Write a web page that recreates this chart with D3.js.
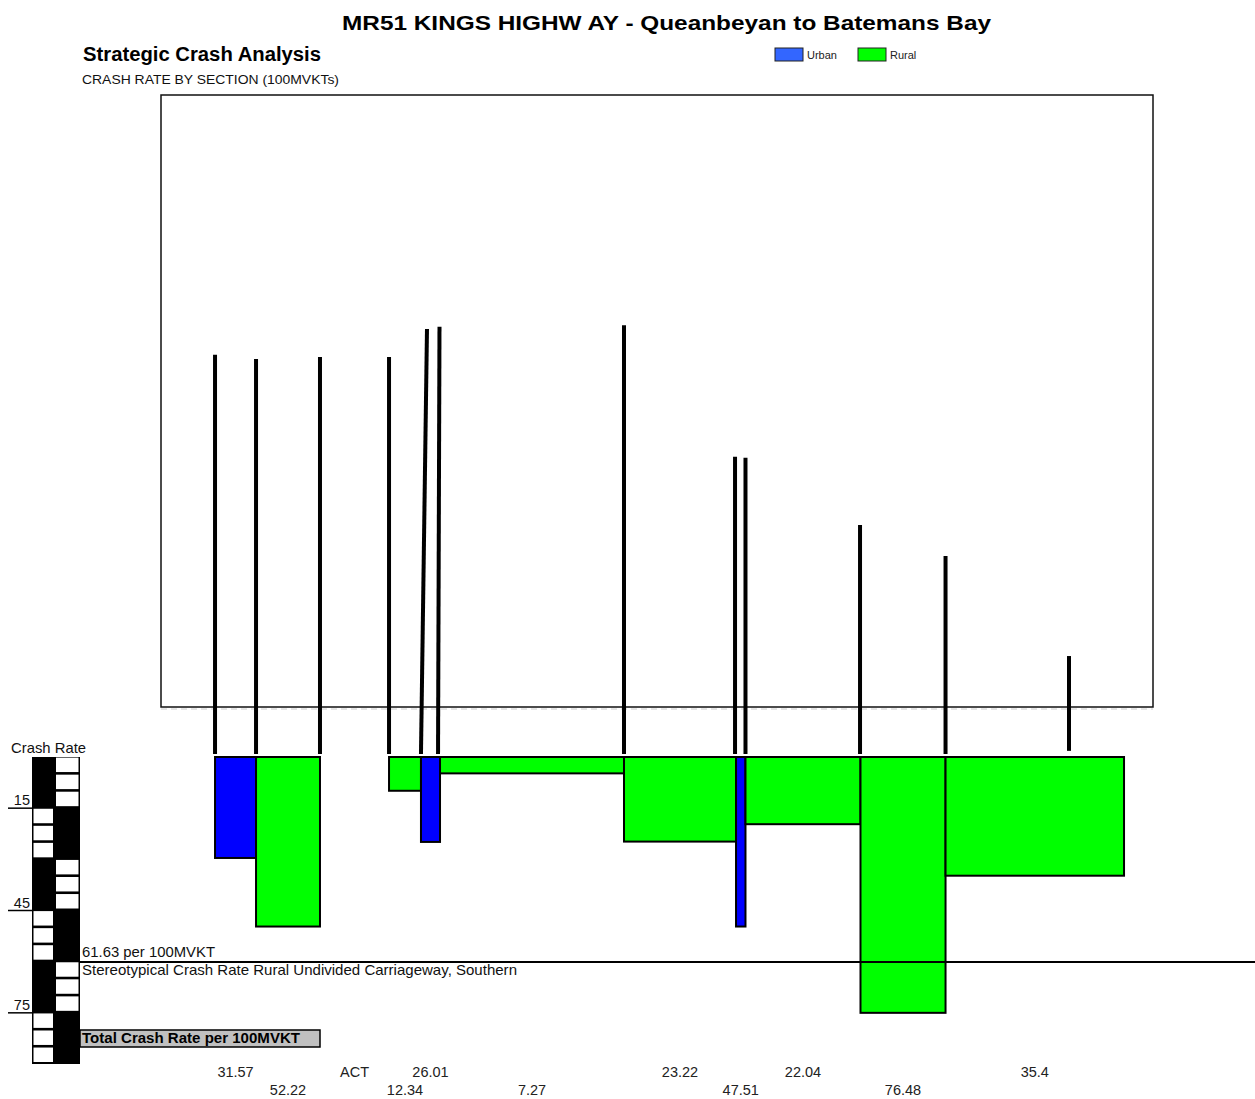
<!DOCTYPE html>
<html><head><meta charset="utf-8">
<script src="https://cdn.jsdelivr.net/npm/d3@7"></script>
<style>body{margin:0;background:#fff} svg{display:block} text{font-family:"Liberation Sans",Arial,sans-serif}</style>
</head><body><svg id="c" width="1255" height="1099"></svg>
<script>
// ---- data (chainage in km along route, crash rates per 100MVKT) ----
const sectionStart = [8.17, 14.37, 24.04, 34.48, 39.31, 42.19, 70.01, 86.95, 88.38, 105.77, 118.63];
const sectionEnd   = [14.37, 24.04, 34.48, 39.31, 42.19, 70.01, 86.95, 88.38, 105.77, 118.63, 145.62];
const sectionType  = ["Urban","Rural","ACT","Rural","Urban","Rural","Rural","Urban","Rural","Rural","Rural"];
const barRate      = [29.6, 49.7, null, 9.9, 24.9, 4.8, 24.8, 49.7, 19.7, 75.0, 34.8];
const rateLabels   = ["31.57","52.22","ACT","12.34","26.01","7.27","23.22","47.51","22.04","76.48","35.4"];
const dividerTopX    = [8.17, 14.37, 24.04, 34.48, 40.22, 42.11, 70.01, 86.80, 88.38, 105.70, 118.63, 137.30];
const dividerBottomX = [8.17, 14.37, 24.04, 34.48, 39.31, 41.89, 70.01, 86.80, 88.38, 105.70, 118.63, 137.30];
const dividerLevel   = [117.9, 116.7, 117.3, 117.3, 125.5, 126.1, 126.6, 88.0, 87.7, 68.0, 58.9, 29.6];
const dividerEnd     = [0.9, 0.9, 0.9, 0.9, 0.9, 0.9, 0.9, 0.9, 0.9, 0.9, 0.9, 1.8];
const scaleTicks = [15, 45, 75];
const referenceRate = 60.1;
const referenceLabel = "61.63 per 100MVKT";
const referenceDesc = "Stereotypical Crash Rate Rural Undivided Carriageway, Southern";
const legendItems = ["Urban", "Rural"];

const svg = d3.select("#c");
const x = d3.scaleLinear().domain([0, 150]).range([161, 1153]);
const yDown = d3.scaleLinear().domain([0, 90]).range([757, 1064]);
const yUp = d3.scaleLinear().domain([0, 90]).range([757, 450]);
const barColor = d3.scaleOrdinal().domain(["Urban","Rural"]).range(["#0000ff","#00ff00"]);
const legendColor = d3.scaleOrdinal().domain(["Urban","Rural"]).range(["#3366ff","#00ff00"]);

// titles
svg.append("text").attr("x", 342).attr("y", 30).attr("font-size", 21).attr("font-weight", "bold")
  .attr("textLength", 649).attr("lengthAdjust", "spacingAndGlyphs")
  .text("MR51 KINGS HIGHW AY - Queanbeyan to Batemans Bay");
svg.append("text").attr("x", 83).attr("y", 61).attr("font-size", 20).attr("font-weight", "bold")
  .attr("textLength", 238).attr("lengthAdjust", "spacingAndGlyphs").text("Strategic Crash Analysis");
svg.append("text").attr("x", 82).attr("y", 84).attr("font-size", 13).attr("fill", "#111")
  .attr("textLength", 257).attr("lengthAdjust", "spacingAndGlyphs").text("CRASH RATE BY SECTION (100MVKTs)");

// legend
const legX = d3.scaleOrdinal().domain(legendItems).range([775, 858]);
const lg = svg.append("g").selectAll("g").data(legendItems).join("g");
lg.append("rect").attr("x", d => legX(d)).attr("y", 48).attr("width", 28).attr("height", 13)
  .attr("fill", d => legendColor(d)).attr("stroke", "#222").attr("stroke-width", 1);
lg.append("text").attr("x", d => legX(d) + 32).attr("y", 59).attr("font-size", 11).attr("fill", "#222").text(d => d);

// plot frame
svg.append("line").attr("x1", 161).attr("x2", 1153).attr("y1", 709).attr("y2", 709)
  .attr("stroke", "#ccc").attr("stroke-width", 1).attr("stroke-dasharray", "6,4");
svg.append("rect").attr("x", 161).attr("y", 95).attr("width", 992).attr("height", 612)
  .attr("fill", "none").attr("stroke", "#111").attr("stroke-width", 1.5);

// scale bar
svg.append("text").attr("x", 11).attr("y", 753).attr("font-size", 14.5).attr("fill", "#111")
  .attr("textLength", 75).attr("lengthAdjust", "spacingAndGlyphs").text("Crash Rate");
svg.append("rect").attr("x", 32).attr("y", yDown(0)).attr("width", 48).attr("height", yDown(90) - yDown(0)).attr("fill", "#000");
const rows = d3.range(18);
svg.append("g").selectAll("rect").data(rows).join("rect")
  .attr("x", r => (Math.floor(r / 3) % 2 === 0) ? 56 : 33.5)
  .attr("width", r => (Math.floor(r / 3) % 2 === 0) ? 22.5 : 19.5)
  .attr("y", r => yDown(r * 5) + 0.6)
  .attr("height", r => yDown((r + 1) * 5) - yDown(r * 5) - 2.6)
  .attr("fill", "#fff");
const tk = svg.append("g").selectAll("g").data(scaleTicks).join("g");
tk.append("line").attr("x1", 8).attr("x2", 33).attr("y1", d => yDown(d)).attr("y2", d => yDown(d))
  .attr("stroke", "#000").attr("stroke-width", 1.5);
tk.append("text").attr("x", 30).attr("y", d => yDown(d) - 3).attr("text-anchor", "end")
  .attr("font-size", 14.5).attr("fill", "#111").text(d => d);

// dividers
svg.append("g").selectAll("line").data(dividerTopX).join("line")
  .attr("x1", (d, i) => x(d)).attr("y1", (d, i) => yUp(dividerLevel[i]))
  .attr("x2", (d, i) => x(dividerBottomX[i])).attr("y2", (d, i) => yUp(dividerEnd[i]))
  .attr("stroke", "#000").attr("stroke-width", 4);

// reference line
svg.append("line").attr("x1", 79).attr("x2", 1255).attr("y1", yDown(referenceRate)).attr("y2", yDown(referenceRate))
  .attr("stroke", "#000").attr("stroke-width", 2);

// bars
const bars = sectionStart.map((s, i) => ({s, e: sectionEnd[i], t: sectionType[i], v: barRate[i], lab: rateLabels[i], i}));
svg.append("g").selectAll("rect").data(bars.filter(d => d.v !== null)).join("rect")
  .attr("x", d => x(d.s)).attr("y", yDown(0))
  .attr("width", d => x(d.e) - x(d.s)).attr("height", d => yDown(d.v) - yDown(0))
  .attr("fill", d => barColor(d.t)).attr("stroke", "#000").attr("stroke-width", 2);
// reference line visible across the tallest bar
svg.append("line").attr("x1", x(105.77)).attr("x2", x(118.63)).attr("y1", yDown(referenceRate)).attr("y2", yDown(referenceRate))
  .attr("stroke", "#000").attr("stroke-width", 2);

svg.append("text").attr("x", 82).attr("y", 957).attr("font-size", 14.5).attr("fill", "#111")
  .attr("textLength", 133).attr("lengthAdjust", "spacingAndGlyphs").text(referenceLabel);
svg.append("text").attr("x", 82).attr("y", 975).attr("font-size", 14.5).attr("fill", "#111")
  .attr("textLength", 435).attr("lengthAdjust", "spacingAndGlyphs").text(referenceDesc);

// total box
svg.append("rect").attr("x", 80).attr("y", 1030).attr("width", 240).attr("height", 17)
  .attr("fill", "#c0c0c0").attr("stroke", "#000").attr("stroke-width", 1.5);
svg.append("text").attr("x", 82).attr("y", 1043).attr("font-size", 14.5).attr("font-weight", "bold")
  .attr("textLength", 218).attr("lengthAdjust", "spacingAndGlyphs").text("Total Crash Rate per 100MVKT");

// section labels
svg.append("g").selectAll("text").data(bars).join("text")
  .attr("x", d => (x(d.s) + x(d.e)) / 2).attr("y", d => d.i % 2 === 0 ? 1077 : 1095)
  .attr("text-anchor", "middle").attr("font-size", 14.5).attr("fill", "#222").text(d => d.lab);
</script></body></html>
